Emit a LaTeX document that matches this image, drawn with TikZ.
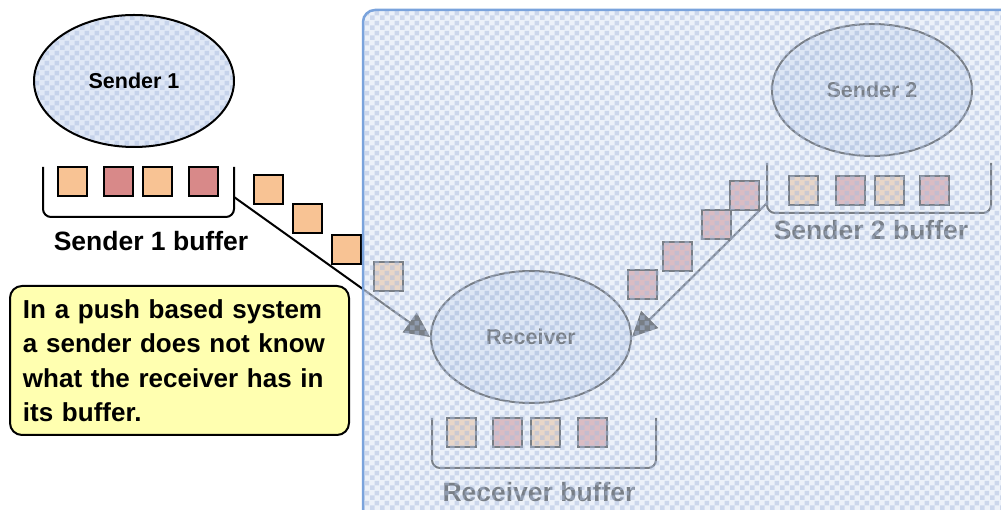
\documentclass[tikz,border=0pt]{standalone}
\usepackage{fontspec}
\setmainfont{Liberation Sans}
\usetikzlibrary{shapes.geometric,arrows.meta,patterns.meta}
\definecolor{hostblue}{RGB}{224,232,246}
\definecolor{hostcell}{RGB}{198,211,235}
\definecolor{pktorange}{RGB}{248,195,148}
\definecolor{pktpink}{RGB}{216,137,137}
\definecolor{memoyellow}{RGB}{255,255,176}
\definecolor{veilblue}{RGB}{220,230,244}
\definecolor{veilcell}{RGB}{170,188,222}
\definecolor{veilrim}{RGB}{122,163,220}
\tikzdeclarepattern{
  name=checks,
  type=uncolored,
  bounding box={(0pt,0pt) and (10pt,10pt)},
  tile size={(10pt,10pt)},
  code={
    \fill (0pt,0pt) rectangle (5pt,5pt);
    \fill (5pt,5pt) rectangle (10pt,10pt);
  }
}
\tikzset{host/.style={
    ellipse, draw, line width=2pt,
    preaction={fill=hostblue},
    pattern=checks, pattern color=hostcell,
    minimum width=200pt, minimum height=132pt, inner sep=0pt,
    font=\bfseries\fontsize{21.5}{26}\selectfont
  },
  pkt/.style={
    draw, line width=2pt, minimum size=29pt, inner sep=0pt
  },
  tray/.style={line width=2pt, rounded corners=8pt},
  traylabel/.style={anchor=base, font=\bfseries\fontsize{26.5}{30}\selectfont},
  push/.style={line width=2pt, -{Triangle[length=25pt,width=24pt]}},
  memo/.style={
    draw, line width=2pt, rounded corners=12pt, fill=memoyellow,
    align=left, text width=313pt, inner xsep=12pt, inner ysep=0pt,
    minimum width=339pt, minimum height=149pt,
    font=\bfseries\fontsize{26}{34.5}\selectfont
  },
  veil/.style={
    rounded corners=12pt,
    preaction={fill=veilblue, fill opacity=.55},
    pattern=checks, pattern color=veilcell, fill opacity=.48,
    draw=veilrim, draw opacity=1, line width=2.5pt
  }
}
\begin{document}
\begin{tikzpicture}[x=1pt,y=1pt]
  \useasboundingbox (0,0) rectangle (1001,510);

  \node[host] (s1) at (134,429) {Sender 1};
  \draw[tray] (43,343) |- (234,293) -- (234,343);
  \foreach \x/\c [count=\i] in {72.5/pktorange,118.5/pktpink,157.5/pktorange,203.5/pktpink}
    \node[pkt, fill=\c] (s1q\i) at (\x,328) {};
  \node[traylabel] (s1buf) at (151,259) {Sender 1 buffer};
  \coordinate (s1rim) at (234,313);

  \foreach \x/\y [count=\i] in {268.5/320,307.5/291.5,346.5/260,388/233.5}
    \node[pkt, fill=pktorange] (fly1\i) at (\x,\y) {};

  \node[host] (rcv) at (531,173) {Receiver};
  \draw[tray] (432,92) |- (656,42) -- (656,92);
  \foreach \x/\c [count=\i] in {461/pktorange,507/pktpink,545.5/pktorange,592/pktpink}
    \node[pkt, fill=\c] (rq\i) at (\x,77.5) {};
  \node[traylabel] (rbuf) at (539,8) {Receiver buffer};

  \node[host] (s2) at (872,420) {Sender 2};
  \draw[tray] (767,347) |- (991,297) -- (991,347);
  \foreach \x/\c [count=\i] in {803.5/pktorange,850/pktpink,889/pktorange,934.5/pktpink}
    \node[pkt, fill=\c] (s2q\i) at (\x,319) {};
  \node[traylabel] (s2buf) at (871,270) {Sender 2 buffer};
  \coordinate (s2rim) at (767,307);

  \foreach \x/\y [count=\i] in {744.5/314,716.5/285,677/253.5,642/225.5}
    \node[pkt, fill=pktpink] (fly2\i) at (\x,\y) {};

  \draw[push] (s1rim) -- (rcv.west);
  \draw[push] (s2rim) -- (rcv.east);

  \node[memo, anchor=north west] (memo) at (9,225) {In a push based system\\a sender does not know\\what the receiver has in\\its buffer.};

  \path[veil] (363,-20) rectangle (1030,500);
\end{tikzpicture}
\end{document}
